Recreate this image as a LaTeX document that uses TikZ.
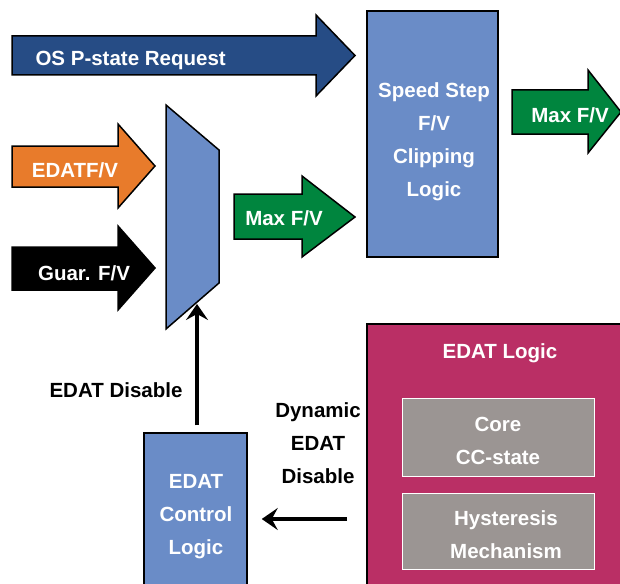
\documentclass[tikz,border=0pt]{standalone}
\usepackage{fontspec}
\setmainfont{Liberation Sans}
\usetikzlibrary{arrows.meta}
\definecolor{osblue}{HTML}{264C85}
\definecolor{boxblue}{HTML}{6A8CC7}
\definecolor{edatorange}{HTML}{E87B2B}
\definecolor{maxgreen}{HTML}{00853E}
\definecolor{edatpink}{HTML}{BA2F65}
\definecolor{subgray}{HTML}{9B9593}
\tikzset{
  barrow/.style={draw=black, line width=1.5pt, line join=miter},
  box/.style={draw=black, line width=1.5pt, fill=boxblue, text=white, align=center, inner sep=0pt},
  subbox/.style={draw=white, line width=1pt, fill=subgray, text=white, align=center, inner sep=0pt,
    minimum width=192pt},
  wlabel/.style={text=white, align=center},
  blabel/.style={text=black, align=center},
  sig/.style={line width=3.5pt, -{Stealth[length=16pt,width=22pt,inset=6pt]}}
}
\begin{document}
\begin{tikzpicture}[x=1pt, y=-1pt, font=\fontsize{20.5}{33}\selectfont\bfseries]
	\useasboundingbox (0,0) rectangle (620,583);
	% input arrows
	\draw[barrow, fill=osblue] (12,36)--(316,36)--(316,15)--(355,55.5)--(316,96)--(316,75)--(12,75)--cycle;
	\node[wlabel, anchor=base west] (osreq) at (32,66) {OS P-state Request};
	\draw[barrow, fill=edatorange] (12,146)--(118,146)--(118,124)--(155,166)--(118,208)--(118,187)--(12,187)--cycle;
	\node[wlabel] (edatfv) at (75,170) {EDATF/V};
	\draw[barrow, fill=black] (12,247)--(118,247)--(118,226)--(155,268)--(118,310)--(118,290)--(12,290)--cycle;
	\node[wlabel] (guarfv) at (84,273) {Guar. F/V};
	% mux
	\draw[barrow, fill=boxblue] (166,105)--(219,150)--(219,283)--(166,329)--cycle;
	\coordinate (muxbot) at (197,304);
	% max F/V arrows
	\draw[barrow, fill=maxgreen] (234,194)--(302,194)--(302,176)--(355,217)--(302,257)--(302,239)--(234,239)--cycle;
	\node[wlabel] (maxmid) at (284,218) {Max F/V};
	\draw[barrow, fill=maxgreen] (512,90)--(588,90)--(588,70)--(621,112)--(588,153)--(588,134)--(512,134)--cycle;
	\node[wlabel] (maxout) at (570,115) {Max F/V};
	% blocks
	\node[box, minimum width=131pt, minimum height=246pt] (speed) at (432.5,134) {};
	\node[wlabel] at (434,142) {Speed Step\\F/V\\Clipping\\Logic};
	\node[box, minimum width=103pt, minimum height=160pt] (ctrl) at (195.5,513) {};
	\node[wlabel] at (196,517) {EDAT\\Control\\Logic};
	\node[box, fill=edatpink, minimum width=260pt, minimum height=270pt] (edat) at (497,459) {};
	\node[wlabel] (edattitle) at (500,353) {EDAT Logic};
	\node[subbox, minimum height=78pt] (core) at (498,437) {};
	\node[wlabel] at (498,441) {Core\\CC-state};
	\node[subbox, minimum height=76pt] (hyst) at (498,531) {};
	\node[wlabel] at (506,535) {Hysteresis\\Mechanism};
	% control signals
	\draw[sig, shorten <=7pt] (ctrl.north -| muxbot) -- (muxbot);
	\node[blabel] (edatdis) at (116,390) {EDAT Disable};
	\coordinate (dynsrc) at (347,519);
	\draw[sig, shorten >=14pt] (dynsrc) -- (ctrl.east |- dynsrc);
	\node[blabel] (dyndis) at (318,443) {Dynamic\\EDAT\\Disable};
\end{tikzpicture}
\end{document}
